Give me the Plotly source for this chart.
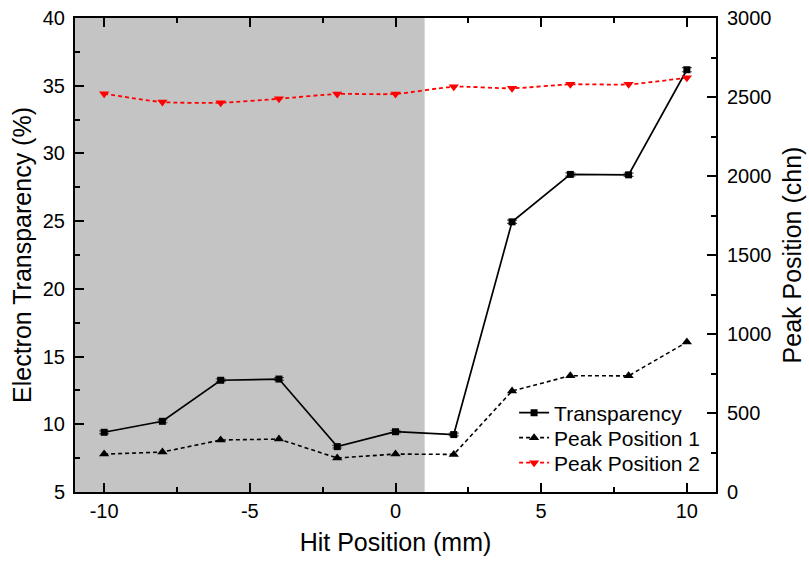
import plotly.graph_objects as go

# Hit positions (mm)
hit_pos = [-10, -8, -6, -4, -2, 0, 2, 4, 6, 8, 10]

# Electron transparency (%) with small uncertainties
transparency = [9.41, 10.22, 13.25, 13.34, 8.35, 9.45, 9.24, 24.95, 28.45, 28.42, 36.18]
transparency_err = [0.1, 0.1, 0.1, 0.1, 0.1, 0.1, 0.1, 0.12, 0.12, 0.12, 0.15]

# Peak positions (chn)
peak1 = [240, 253, 329, 335, 215, 240, 238, 639, 736, 735, 949]
peak2 = [2521, 2468, 2464, 2489, 2519, 2519, 2565, 2555, 2580, 2580, 2622]

# Shaded region of hit positions
shade_x = [-11, 1]

# Axis tick labels
x_ticks = [-10, -5, 0, 5, 10]
x_ticktext = ["-10", "-5", "0", "5", "10"]

FONT = "Liberation Sans, Arial, sans-serif"

fig = go.Figure()

fig.add_trace(go.Scatter(
    x=hit_pos, y=transparency, name="Transparency", legend="legend",
    mode="lines+markers",
    line=dict(color="black", width=1.7),
    marker=dict(symbol="square", size=7, color="black"),
    error_y=dict(type="data", array=transparency_err, visible=True,
                 color="#555555", thickness=1.2, width=5),
))
fig.add_trace(go.Scatter(
    x=hit_pos, y=peak1, name="Peak Position 1", yaxis="y2", legend="legend2",
    mode="lines+markers",
    line=dict(color="black", width=1.6, dash="4px,3px"),
    marker=dict(symbol="triangle-up", size=9, color="black"),
))
fig.add_trace(go.Scatter(
    x=hit_pos, y=peak2, name="Peak Position 2", yaxis="y2", legend="legend3",
    mode="lines+markers",
    line=dict(color="red", width=1.8, dash="4px,3px", shape="spline", smoothing=0.6),
    marker=dict(symbol="triangle-down", size=9, color="red"),
))

fig.add_shape(type="rect", xref="x", yref="paper",
              x0=shade_x[0], x1=shade_x[1], y0=0, y1=1,
              fillcolor="#c4c4c4", line=dict(width=0), layer="below")

axis_common = dict(
    showline=True, linecolor="black", linewidth=2,
    ticks="inside", ticklen=9, tickwidth=1.5, tickcolor="black",
    showgrid=False, zeroline=False, automargin=False,
    tickfont=dict(family=FONT, size=20, color="black"),
)

legend_common = dict(
    x=0.685, xanchor="left", yanchor="middle",
    bgcolor="rgba(0,0,0,0)", borderwidth=0,
    font=dict(family=FONT, size=21, color="black"),
    itemwidth=30,
)

fig.update_layout(
    width=809, height=563,
    margin=dict(l=75, r=93, t=18, b=71),
    paper_bgcolor="white", plot_bgcolor="white",
    font=dict(family=FONT, color="black"),
    showlegend=True,
    legend=dict(**legend_common, y=0.1667),
    legend2=dict(**legend_common, y=0.1139),
    legend3=dict(**legend_common, y=0.0612),
    xaxis=dict(
        **axis_common, range=[-11, 11], tickvals=x_ticks, ticktext=x_ticktext,
        mirror="ticks",
        minor=dict(ticks="inside", ticklen=5, tickwidth=1.5, dtick=2.5, tick0=0,
                   tickcolor="black"),
        title=dict(text="Hit Position (mm)", font=dict(family=FONT, size=25),
                   standoff=12),
    ),
    yaxis=dict(
        **axis_common, range=[5, 40], dtick=5, ticklabelstandoff=4,
        minor=dict(ticks="inside", ticklen=5, tickwidth=1.5, dtick=2.5, tick0=0,
                   tickcolor="black"),
        title=dict(text="Electron Transparency (%)", font=dict(family=FONT, size=25),
                   standoff=4),
    ),
    yaxis2=dict(
        **axis_common, range=[0, 3000], dtick=500, overlaying="y", side="right",
        ticklabelstandoff=5,
        minor=dict(ticks="inside", ticklen=5, tickwidth=1.5, dtick=250, tick0=0,
                   tickcolor="black"),
        title=dict(text="Peak Position (chn)", font=dict(family=FONT, size=25),
                   standoff=13),
    ),
)

fig.write_html("out.html")
